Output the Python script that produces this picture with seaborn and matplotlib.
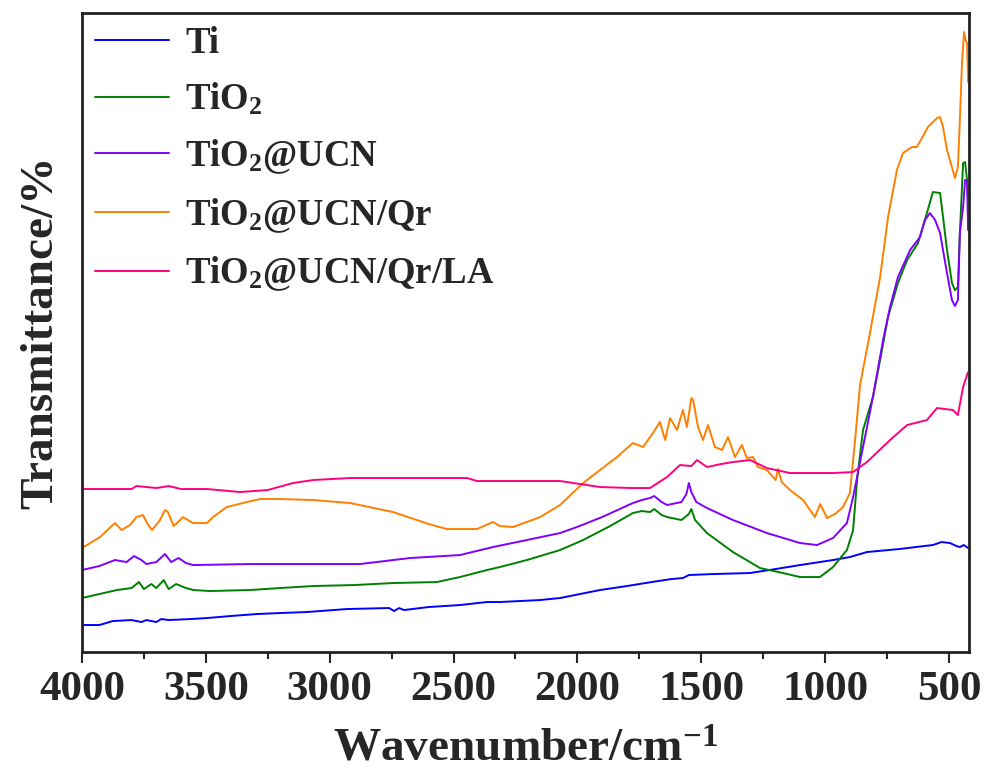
import numpy as np
import pandas as pd
import matplotlib
matplotlib.use("Agg")
import matplotlib.pyplot as plt
import seaborn as sns
from matplotlib.ticker import MultipleLocator

# FTIR spectra: (wavenumber cm-1, transmittance a.u.)
ti = [(4000, 27), (3930, 27), (3875, 31), (3800, 32), (3760, 30), (3740, 32), (3700, 30),
      (3680, 33), (3650, 32), (3560, 33), (3495, 34), (3400, 36), (3294, 38), (3200, 39),
      (3092, 40), (2930, 43), (2760, 44), (2740, 41), (2720, 44), (2700, 42), (2600, 45),
      (2474, 47), (2365, 50), (2313, 50), (2151, 52), (2070, 54), (1909, 62), (1800, 66),
      (1700, 70), (1620, 73), (1574, 74), (1550, 77), (1450, 78), (1303, 79), (1200, 83),
      (1101, 87), (968, 92), (900, 95), (831, 100), (700, 103), (600, 106), (565, 107),
      (530, 110), (496, 109), (470, 106), (456, 105), (440, 107), (423, 104)]

tio2 = [(4000, 54), (3930, 58), (3859, 62), (3800, 64), (3770, 70), (3750, 63), (3720, 68),
        (3700, 64), (3670, 72), (3650, 63), (3620, 68), (3580, 64), (3550, 62), (3483, 61),
        (3322, 62), (3200, 64), (3067, 66), (2900, 67), (2744, 69), (2567, 70), (2474, 75),
        (2365, 82), (2313, 85), (2204, 92), (2070, 102), (1977, 112), (1868, 126), (1776, 139),
        (1740, 141), (1707, 140), (1690, 143), (1660, 137), (1638, 135), (1580, 132), (1550, 138),
        (1540, 143), (1525, 132), (1477, 119), (1372, 100), (1263, 84), (1170, 79), (1101, 75),
        (1021, 75), (968, 85), (912, 102), (887, 122), (871, 172), (847, 222), (807, 255),
        (778, 292), (746, 335), (706, 369), (669, 392), (625, 409), (589, 439), (565, 460),
        (536, 459), (524, 435), (508, 402), (488, 369), (476, 362), (464, 365), (456, 419),
        (443, 489), (435, 490), (427, 472), (423, 452)]

tio2_ucn = [(4000, 82), (3930, 86), (3867, 92), (3820, 90), (3790, 96), (3760, 92), (3740, 88),
            (3700, 90), (3665, 98), (3640, 90), (3610, 94), (3580, 89), (3552, 87), (3322, 88),
            (2878, 88), (2676, 94), (2474, 97), (2341, 105), (2204, 112), (2070, 119), (2002, 125),
            (1900, 135), (1776, 149), (1740, 152), (1707, 154), (1690, 156), (1660, 150), (1638, 147),
            (1580, 150), (1560, 158), (1550, 169), (1540, 160), (1520, 150), (1477, 144), (1372, 132),
            (1235, 119), (1101, 109), (1033, 107), (968, 114), (912, 129), (887, 155), (847, 205),
            (807, 255), (766, 312), (738, 345), (706, 375), (657, 402), (617, 415), (597, 432),
            (577, 439), (556, 432), (536, 419), (508, 379), (488, 352), (476, 346), (464, 352),
            (456, 419), (443, 445), (435, 472), (427, 472), (423, 422)]

tio2_ucn_qr = [(4000, 104), (3927, 115), (3867, 129), (3840, 122), (3806, 127), (3780, 135),
               (3754, 137), (3735, 128), (3717, 122), (3685, 132), (3665, 142), (3653, 140),
               (3630, 126), (3616, 129), (3592, 135), (3552, 129), (3495, 129), (3471, 135),
               (3415, 145), (3334, 150), (3281, 153), (3200, 153), (3067, 152), (2918, 149),
               (2744, 140), (2600, 128), (2527, 123), (2405, 123), (2341, 130), (2313, 126),
               (2260, 125), (2150, 135), (2070, 147), (1977, 169), (1909, 182), (1840, 195),
               (1776, 209), (1735, 205), (1695, 219), (1667, 230), (1646, 212), (1626, 234),
               (1598, 222), (1574, 242), (1558, 225), (1540, 254), (1533, 252), (1513, 225),
               (1493, 212), (1473, 227), (1445, 205), (1416, 202), (1392, 215), (1364, 195),
               (1336, 207), (1316, 194), (1291, 195), (1271, 185), (1235, 182), (1200, 172),
               (1190, 183), (1175, 170), (1142, 162), (1089, 152), (1041, 135), (1020, 148),
               (992, 134), (960, 138), (928, 145), (900, 159), (879, 212), (859, 267), (819, 319),
               (778, 375), (746, 435), (710, 482), (686, 499), (649, 505), (630, 505), (609, 514),
               (585, 525), (548, 534), (536, 535), (524, 525), (508, 502), (488, 485), (476, 474),
               (464, 485), (456, 532), (447, 592), (439, 620), (433, 612), (427, 609), (423, 570)]

tio2_ucn_qr_la = [(4000, 163), (3800, 163), (3780, 166), (3700, 164), (3650, 166), (3600, 163),
                  (3495, 163), (3362, 160), (3250, 162), (3148, 169), (3067, 172), (2918, 174),
                  (2700, 174), (2446, 174), (2405, 171), (2070, 171), (2042, 170), (1909, 165),
                  (1780, 164), (1707, 164), (1638, 175), (1586, 187), (1540, 186), (1517, 192),
                  (1477, 185), (1420, 188), (1372, 190), (1303, 192), (1235, 184), (1142, 179),
                  (968, 179), (887, 180), (831, 190), (738, 212), (669, 227), (589, 232),
                  (548, 244), (484, 242), (464, 237), (443, 265), (423, 280)]

labels = ["Ti", r"TiO$_2$", r"TiO$_2$@UCN", r"TiO$_2$@UCN/Qr", r"TiO$_2$@UCN/Qr/LA"]
colors = ["#0000ff", "#008000", "#8000ff", "#ff8000", "#ff0080"]
series = [ti, tio2, tio2_ucn, tio2_ucn_qr, tio2_ucn_qr_la]

sns.set_style("ticks")
plt.rcParams['font.family'] = ['Liberation Serif', 'DejaVu Serif']
plt.rcParams['font.weight'] = 'bold'
plt.rcParams['mathtext.default'] = 'regular'

fig = plt.figure(figsize=(9.84, 7.71), dpi=100)
ax = fig.add_axes([0.0833, 0.1543, 0.9015, 0.8288])

for pts, lab, col in zip(series, labels, colors):
    df = pd.DataFrame(pts, columns=["wavenumber", "transmittance"])
    sns.lineplot(data=df, x="wavenumber", y="transmittance", ax=ax, color=col,
                 label=lab, linewidth=1.4, estimator=None)

ax.set_xlim(4000, 419)
ax.set_ylim(0, 639)
ax.xaxis.set_major_locator(MultipleLocator(500))
ax.xaxis.set_minor_locator(MultipleLocator(250))
ax.set_yticks([])
ax.tick_params(axis='x', which='major', length=8, width=1.5, direction='out',
               labelsize=31, pad=6, top=False)
ax.tick_params(axis='x', which='minor', length=5, width=1.5, direction='out', top=False)
for lbl in ax.get_xticklabels():
    lbl.set_fontweight('bold')
for sp in ax.spines.values():
    sp.set_linewidth(2)
    sp.set_color('#222222')

ax.set_xlabel("Wavenumber/cm$^{-1}$", fontsize=34, fontweight='bold', labelpad=14)
ax.set_ylabel("Transmittance/%", fontsize=34, fontweight='bold', labelpad=14)

leg = ax.legend(loc='upper left', frameon=False, handlelength=2.0,
                labelspacing=0.54, borderaxespad=0.0, borderpad=0.36, handletextpad=0.45,
                prop={'weight': 'bold', 'size': 26.5})

fig.savefig("out.png", dpi=100)
